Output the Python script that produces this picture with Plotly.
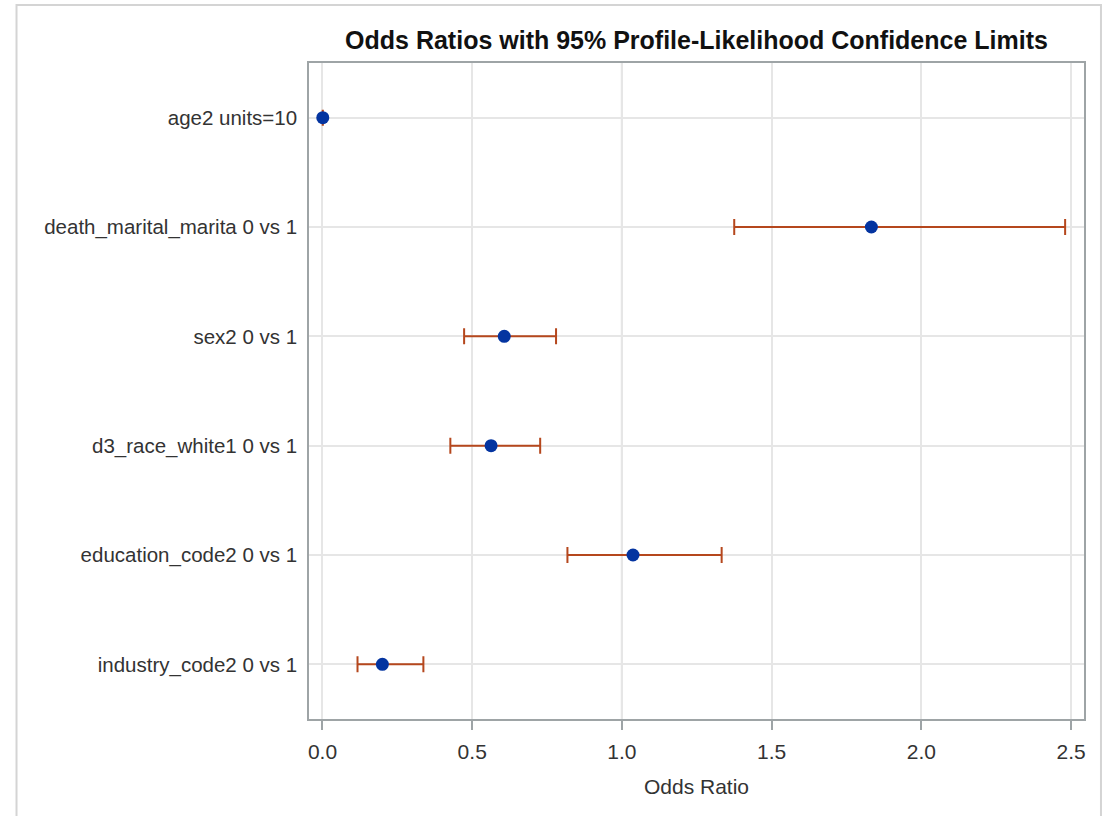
import plotly.graph_objects as go

# Odds ratio estimates with 95% profile-likelihood limits
effects = [
    "age2 units=10",
    "death_marital_marita 0 vs 1",
    "sex2 0 vs 1",
    "d3_race_white1 0 vs 1",
    "education_code2 0 vs 1",
    "industry_code2 0 vs 1",
]
odds_ratio = [0.001, 1.833, 0.607, 0.563, 1.037, 0.200]
lower_cl = [0.0008, 1.375, 0.473, 0.427, 0.818, 0.117]
upper_cl = [0.0013, 2.480, 0.780, 0.727, 1.333, 0.337]
x_ticks = [0.0, 0.5, 1.0, 1.5, 2.0, 2.5]
x_tick_text = ["0.0", "0.5", "1.0", "1.5", "2.0", "2.5"]

rows = list(range(len(effects)))
err_plus = [u - o for u, o in zip(upper_cl, odds_ratio)]
err_minus = [o - l for o, l in zip(odds_ratio, lower_cl)]

FONT = "Liberation Sans, Arial, sans-serif"
TEXT = "#333333"
AXIS = "#9EA4A6"
GRID = "#E6E6E6"

fig = go.Figure()

# reference line at OR = 1
fig.add_shape(type="line", xref="x", yref="paper", x0=1, x1=1, y0=0, y1=1,
              line=dict(color="#A3A9AC", width=2), layer="below")

fig.add_trace(go.Scatter(
    x=odds_ratio, y=rows, mode="markers",
    marker=dict(color="#0434A0", size=13, line=dict(width=0)),
    error_x=dict(type="data", symmetric=False, array=err_plus,
                 arrayminus=err_minus, color="#B5471D", thickness=2, width=8),
    showlegend=False, cliponaxis=False,
))

# light frame around the whole graphic
fig.add_shape(type="rect", xref="paper", yref="paper",
              x0=-0.3774, x1=1.0219, y0=-0.16, y1=1.0884,
              line=dict(color="#D4D4D4", width=2), layer="below")

fig.update_layout(
    width=1109, height=816,
    margin=dict(l=309, r=25, t=63, b=97),
    paper_bgcolor="white", plot_bgcolor="white",
    font=dict(family=FONT, color=TEXT, size=20),
    title=dict(text="<b>Odds Ratios with 95% Profile-Likelihood Confidence Limits</b>",
               x=0.5, xref="paper", xanchor="center",
               y=1 - 40 / 816, yanchor="middle", yref="container",
               font=dict(family=FONT, size=25, color="#111111")),
)

fig.update_xaxes(
    range=[-0.045, 2.543], tickvals=x_ticks, ticktext=x_tick_text,
    showgrid=True, gridcolor=GRID, gridwidth=1.5, zeroline=False,
    showline=True, linecolor=AXIS, linewidth=1.5, mirror=True,
    ticks="outside", ticklen=9, tickcolor=AXIS, tickwidth=1.5,
    ticklabelstandoff=4,
    tickfont=dict(size=21, color=TEXT),
    title=dict(text="Odds Ratio", font=dict(size=21, color=TEXT), standoff=17),
)

fig.update_yaxes(
    range=[5.5, -0.5], tickvals=rows, ticktext=effects,
    showgrid=True, gridcolor=GRID, gridwidth=1.5, zeroline=False,
    showline=True, linecolor=AXIS, linewidth=1.5, mirror=True,
    ticks="", ticklabelstandoff=6,
    tickfont=dict(size=20.5, color=TEXT),
)

fig.write_html("out.html")
